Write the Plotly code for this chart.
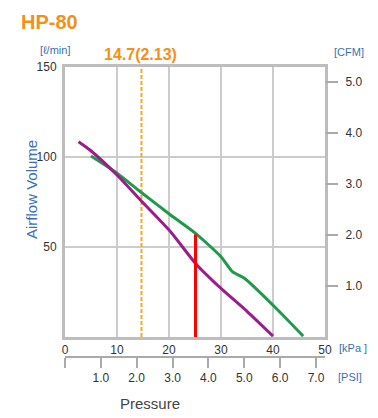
import plotly.graph_objects as go

# Data (kPa, l/min)
purple_kpa = [2.6, 4.8, 10.0, 14.5, 20.3, 25.1, 30.0, 35.1, 40.0]
purple_lpm = [108.5, 103.9, 90.0, 76.1, 58.5, 40.9, 27.0, 14.0, 0.5]
green_kpa = [5.0, 10.0, 14.5, 20.3, 25.1, 30.0, 32.2, 34.5, 40.3, 45.8]
green_lpm = [100.5, 91.0, 80.7, 67.8, 57.6, 44.6, 36.3, 32.6, 16.8, 0.5]
marker_kpa = 14.7
red_kpa = 25.1
red_lpm = [57.0, -9.0]

kpa_ticks = [0, 10, 20, 30, 40, 50]
lpm_ticks = [50, 100, 150]
cfm_ticks = [1, 2, 3, 4, 5]
psi_ticks = [0, 1, 2, 3, 4, 5, 6, 7]
psi_labels = ["", "1.0", "2.0", "3.0", "4.0", "5.0", "6.0", "7.0"]

KPA_PER_PSI = 6.895
LPM_PER_CFM = 28.317

OFF = 8  # page body margin
W, H = 378 - OFF, 418 - OFF
L, R, T, B = 65 - OFF, 53, 67 - OFF, 61
ph = H - T - B
ydom0 = 20 / ph

font = "Liberation Sans"
blue = "#3b6fb3"
orange = "#f39019"
gray = "#bdbdbd"

fig = go.Figure()
fig.add_trace(go.Scatter(x=[marker_kpa, marker_kpa], y=[0, 150], mode="lines",
                         line=dict(color="#f5a623", width=2, dash="4px,2px"),
                         hoverinfo="skip", showlegend=False))
fig.add_trace(go.Scatter(x=green_kpa, y=green_lpm, mode="lines",
                         line=dict(color="#1f9a4a", width=3, shape="spline", smoothing=0.6),
                         showlegend=False))
fig.add_trace(go.Scatter(x=purple_kpa, y=purple_lpm, mode="lines",
                         line=dict(color="#9b1d8c", width=3, shape="spline", smoothing=0.6),
                         showlegend=False))
fig.add_trace(go.Scatter(x=[red_kpa, red_kpa], y=red_lpm, mode="lines",
                         line=dict(color="#ff0000", width=3), cliponaxis=False,
                         showlegend=False))
# invisible traces to activate secondary axes
fig.add_trace(go.Scatter(x=[0], y=[0], yaxis="y2", mode="markers",
                         marker=dict(opacity=0), showlegend=False, hoverinfo="skip"))
fig.add_trace(go.Scatter(x=[0], y=[0], xaxis="x2", mode="markers",
                         marker=dict(opacity=0), showlegend=False, hoverinfo="skip"))

tf = dict(family=font, size=12, color="#333")
fig.update_layout(
    width=W, height=H, autosize=False,
    margin=dict(l=L, r=R, t=T, b=B),
    paper_bgcolor="white", plot_bgcolor="white",
    font=dict(family=font, size=11, color="#333"),
    xaxis=dict(range=[0, 50], tickvals=kpa_ticks, showgrid=True, gridcolor="#cccccc",
               gridwidth=1.5, showline=True, linecolor=gray, linewidth=3, mirror=True,
               ticks="", zeroline=False, anchor="y", fixedrange=True, tickfont=tf),
    yaxis=dict(range=[0, 150], tickvals=lpm_ticks, domain=[ydom0, 1], showgrid=True,
               gridcolor="#cccccc", gridwidth=1.5, showline=True, linecolor=gray,
               linewidth=3, mirror=True, ticks="", zeroline=False,
               ticklabelstandoff=3, tickfont=tf),
    yaxis2=dict(range=[0, 150 / LPM_PER_CFM], tickvals=cfm_ticks,
                ticktext=[f"{v:.1f}" for v in cfm_ticks], overlaying="y", side="right",
                showgrid=False, zeroline=False, ticks="outside", ticklen=12,
                tickcolor="#aaaaaa", tickwidth=1.5, showline=False,
                ticklabelstandoff=5, tickfont=tf),
    xaxis2=dict(range=[0, 50 / KPA_PER_PSI], tickvals=psi_ticks, ticktext=psi_labels,
                anchor="free", position=0, side="bottom", overlaying="x",
                showgrid=False, zeroline=False, showline=True, linecolor="#aaaaaa",
                linewidth=1.5, ticks="outside", ticklen=10, tickcolor="#aaaaaa",
                tickwidth=1.5, tickfont=tf),
)

ann = [
    dict(text="<b>HP-80</b>", x=19, y=22, font=dict(size=20, color=orange), xanchor="left"),
    dict(text="[ℓ/min]", x=55, y=50, font=dict(size=11, color=blue), xanchor="center"),
    dict(text="<b>14.7(2.13)</b>", x=140, y=54, font=dict(size=16, color=orange), xanchor="center"),
    dict(text="[CFM]", x=349, y=52, font=dict(size=11, color=blue), xanchor="center"),
    dict(text="[kPa ]", x=337, y=348, font=dict(size=11, color=blue), xanchor="left"),
    dict(text="[PSI]", x=336, y=377, font=dict(size=11, color=blue), xanchor="left"),
    dict(text="Pressure", x=150, y=403, font=dict(size=15, color="#444"), xanchor="center"),
    dict(text="Airflow Volume", x=31, y=190, font=dict(size=15, color=blue),
         xanchor="center", textangle=-90),
]
for a in ann:
    fig.add_annotation(text=a["text"], xref="paper", yref="paper",
                       x=(a["x"] - OFF - L) / (W - L - R),
                       y=(H - B - (a["y"] - OFF)) / ph,
                       xanchor=a["xanchor"], yanchor="middle", showarrow=False,
                       font=dict(family=font, **a["font"]), textangle=a.get("textangle", 0))

fig.write_html("out.html")
